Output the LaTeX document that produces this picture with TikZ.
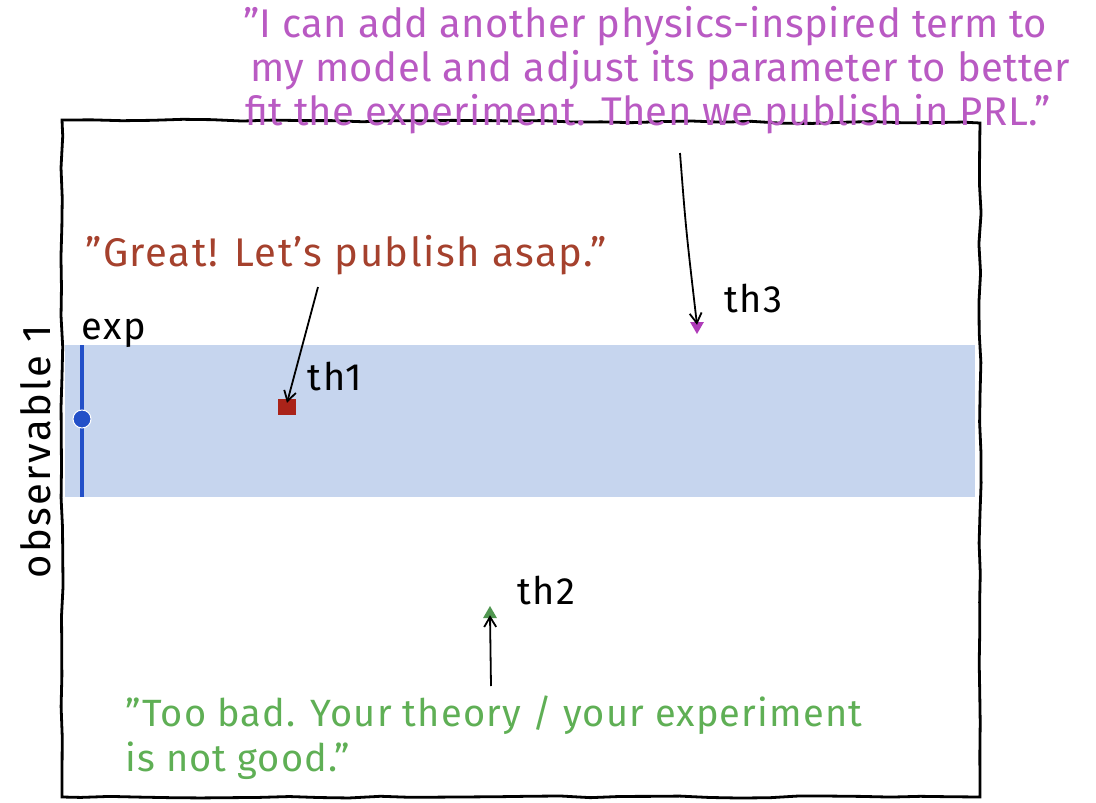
\documentclass[tikz,border=0pt]{standalone}
\usepackage{fontspec}
\setmainfont{Fira Sans}
\usetikzlibrary{arrows.meta,decorations.pathmorphing,shapes.geometric}
\definecolor{bandblue}{RGB}{198,213,238}
\definecolor{expblue}{RGB}{35,80,200}
\definecolor{purpletxt}{RGB}{185,90,195}
\definecolor{redtxt}{RGB}{165,65,45}
\definecolor{greentxt}{RGB}{95,175,85}
\definecolor{thred}{RGB}{170,35,25}
\definecolor{thpurple}{RGB}{175,60,185}
\definecolor{thgreen}{RGB}{80,150,80}
\tikzset{
  wobbly/.style={line width=2.8pt, decorate, decoration={random steps, segment length=30pt, amplitude=1.1pt}},
  ptr/.style={-{Straight Barb[length=10pt,width=12pt]}, line width=1.8pt, black},
  lab/.style={font=\fontsize{38}{40}\selectfont\addfontfeatures{LetterSpace=4}, text=black, inner sep=0pt},
  quote/.style={inner sep=0pt, align=left, anchor=north west},
}
\begin{document}
\begin{tikzpicture}[x=1pt,y=-1pt]
\useasboundingbox (0,0) rectangle (1096,803);
\pgfmathsetseed{7}
% band
\fill[bandblue] (65,345) rectangle (975,497);
% frame
\draw[wobbly] (62,120) -- (980,123) -- (980,797) -- (62,797) -- cycle;
% exp error bar
\draw[expblue, line width=4.5pt] (82,345) -- (82,497);
\node[circle, fill=expblue, draw=white, line width=1pt, minimum size=18pt, inner sep=0pt] (expdot) at (82,419) {};
\node[lab] (explab) at (114,333) {exp};
% th1
\node[rectangle, fill=thred, minimum width=18pt, minimum height=16pt, inner sep=0pt] (th1) at (287,407) {};
\node[lab] (th1lab) at (335,377) {th1};
% th3
\node[regular polygon, regular polygon sides=3, shape border rotate=180, fill=thpurple, minimum size=16pt, inner sep=0pt] (th3) at (697,326) {};
\node[lab] (th3lab) at (753,299) {th3};
% th2
\node[regular polygon, regular polygon sides=3, fill=thgreen, minimum size=16pt, inner sep=0pt] (th2) at (490,614) {};
\node[lab] (th2lab) at (546,591) {th2};
% ylabel
\node[lab, rotate=90, font=\fontsize{40}{44}\selectfont\addfontfeatures{LetterSpace=6}] (ylab) at (36,452) {observable 1};
% quotes
\node[quote, text=purpletxt, font=\fontsize{40}{44}\selectfont\addfontfeatures{LetterSpace=1}] (q3) at (243,6)
  {"I can add another physics-inspired term to\\
   \hspace*{7pt}my model and adjust its parameter to better\\
   \hspace*{2pt}fit the experiment. Then we publish in PRL."};
\node[quote, text=redtxt, font=\fontsize{40}{44}\selectfont\addfontfeatures{LetterSpace=4}, anchor=west] (q1) at (85,255)
  {"Great! Let's publish asap."};
\node[quote, text=greentxt, font=\fontsize{38}{45}\selectfont\addfontfeatures{LetterSpace=3}] (q2) at (125,696)
  {"Too bad. Your theory / your experiment\\ is not good."};
% pointer anchors
\coordinate (q3tail) at (680,153);
\coordinate (q1tail) at (318,287);
\coordinate (q2tail) at (491,686);
\draw[ptr] (q3tail) .. controls (686,230) .. ([yshift=-3pt]th3.north);
\draw[ptr] (q1tail) -- ([yshift=-4pt]th1.north);
\draw[ptr] (q2tail) -- ([yshift=3pt]th2.south);
\end{tikzpicture}
\end{document}
